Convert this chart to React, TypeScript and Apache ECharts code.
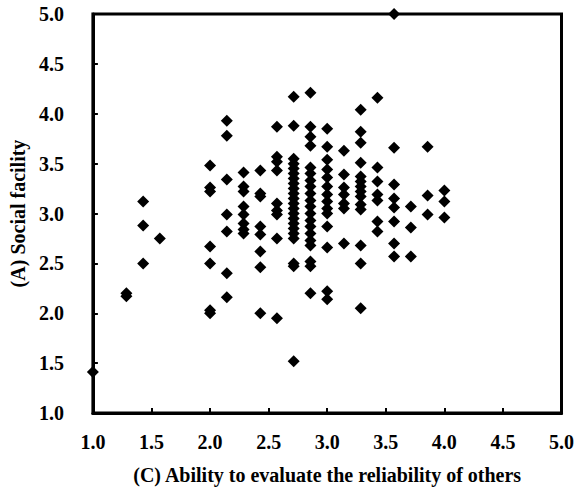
import React, { useEffect, useRef } from "react";
import * as echarts from "echarts";

// x levels (C) and the y values (A) observed at each level
const xLevels = [1.0, 1.286, 1.429, 1.571, 2.0, 2.143, 2.286, 2.429, 2.571, 2.714, 2.857, 3.0, 3.143, 3.286, 3.429, 3.571, 3.714, 3.857, 4.0];

const y100 = [1.41];
const y129 = [2.17, 2.2];
const y143 = [3.12, 2.88, 2.5];
const y157 = [2.75];
const y200 = [3.48, 3.26, 3.22, 2.67, 2.5, 2.03, 2.0];
const y214 = [3.93, 3.78, 3.34, 2.99, 2.82, 2.4, 2.16];
const y229 = [3.41, 3.27, 3.22, 3.07, 2.99, 2.9, 2.84, 2.8];
const y243 = [3.43, 3.2, 3.17, 2.87, 2.79, 2.62, 2.46, 2.0];
const y257 = [3.87, 3.57, 3.52, 3.43, 3.1, 3.03, 2.99, 2.75, 1.95];
const y271 = [4.17, 3.88, 3.55, 3.5, 3.45, 3.4, 3.35, 3.3, 3.25, 3.2, 3.15, 3.1, 3.05, 3.0, 2.95, 2.9, 2.85, 2.8, 2.75, 2.5, 2.47, 1.52];
const y286 = [4.21, 3.87, 3.77, 3.68, 3.46, 3.4, 3.33, 3.27, 3.2, 3.13, 3.07, 3.0, 2.93, 2.87, 2.8, 2.73, 2.68, 2.52, 2.47, 2.2];
const y300 = [3.85, 3.67, 3.54, 3.44, 3.36, 3.27, 3.19, 3.12, 3.05, 3.0, 2.87, 2.66, 2.22, 2.14];
const y314 = [3.63, 3.39, 3.26, 3.19, 3.1, 3.05, 2.7];
const y329 = [4.04, 3.82, 3.71, 3.51, 3.37, 3.32, 3.27, 3.22, 3.17, 3.09, 3.04, 2.68, 2.5, 2.05];
const y343 = [4.16, 3.46, 3.32, 3.19, 3.13, 2.92, 2.82];
const y357 = [5.0, 3.66, 3.29, 3.15, 3.06, 2.92, 2.7, 2.57];
const y371 = [3.07, 2.86, 2.57];
const y386 = [3.67, 3.18, 2.99];
const y400 = [3.23, 3.12, 2.96];

const yByLevel = [y100, y129, y143, y157, y200, y214, y229, y243, y257, y271, y286, y300, y314, y329, y343, y357, y371, y386, y400];

const axisTicks = [1.0, 1.5, 2.0, 2.5, 3.0, 3.5, 4.0, 4.5, 5.0];

const xTitle = "(C) Ability to evaluate the reliability of others";
const yTitle = "(A) Social facility";

export default function App() {
  const ref = useRef<HTMLDivElement>(null);

  useEffect(() => {
    if (!ref.current) return;
    const chart = echarts.init(ref.current, null, { renderer: "svg" });
    const points: number[][] = [];
    xLevels.forEach((x, i) => {
      yByLevel[i].forEach((y) => points.push([x, y]));
    });
    const font = "'Liberation Serif', 'Times New Roman', serif";
    const labelStyle = {
      color: "#000",
      fontFamily: font,
      fontWeight: "bold" as const,
      fontSize: 20,
      formatter: (v: number) => v.toFixed(1),
    };
    chart.setOption({
      animation: false,
      backgroundColor: "#fff",
      grid: {
        left: 87,
        right: 11,
        top: 14,
        bottom: 79,
        show: true,
        borderColor: "#000",
        borderWidth: 3,
        backgroundColor: "transparent",
      },
      xAxis: {
        type: "value",
        min: axisTicks[0],
        max: axisTicks[axisTicks.length - 1],
        interval: 0.5,
        name: xTitle,
        nameLocation: "middle",
        nameGap: 52,
        nameTextStyle: { color: "#000", fontFamily: font, fontWeight: "bold", fontSize: 20 },
        axisLine: { show: true, lineStyle: { color: "#000", width: 3 } },
        axisTick: { show: true, inside: true, length: 5, lineStyle: { color: "#000", width: 2 } },
        axisLabel: { ...labelStyle, margin: 19 },
        splitLine: { show: false },
      },
      yAxis: {
        type: "value",
        min: axisTicks[0],
        max: axisTicks[axisTicks.length - 1],
        interval: 0.5,
        name: yTitle,
        nameLocation: "middle",
        nameGap: 64,
        nameTextStyle: { color: "#000", fontFamily: font, fontWeight: "bold", fontSize: 20 },
        axisLine: { show: true, lineStyle: { color: "#000", width: 3 } },
        axisTick: { show: true, inside: true, length: 5, lineStyle: { color: "#000", width: 2 } },
        axisLabel: { ...labelStyle, margin: 29 },
        splitLine: { show: false },
      },
      series: [
        {
          type: "scatter",
          data: points,
          symbol: "diamond",
          symbolSize: 12,
          clip: false,
          itemStyle: { color: "#000", opacity: 1 },
        },
      ],
    });
    return () => chart.dispose();
  }, []);

  return (
    <div
      ref={ref}
      style={{ position: "fixed", left: 0, top: 0, width: 577, height: 492, background: "#fff" }}
    />
  );
}
